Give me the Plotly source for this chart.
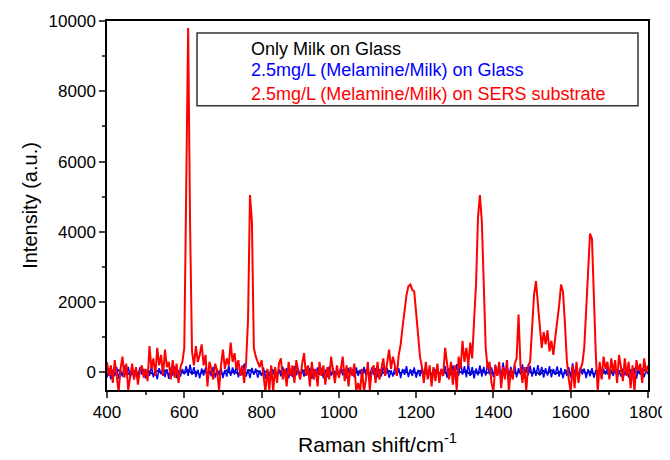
import plotly.graph_objects as go

# ---------------- data ----------------
wavenumber = list(range(400, 1801, 5))
wavenumber_black = list(range(400, 1801, 10))

red_sers = [
    300, -100, 200, -300, 350, -200, -550, 100, 450, -150,
    250, -500, -100, 250, -200, 150, -350, 50, 200, -150,
    100, -250, 750, 100, 400, -100, 700, 200, 500, -100,
    650, 150, 300, -200, 350, -150, 250, -300, 150, 300,
    700, 4800, 9800, 4200, 600, 200, 750, 300, 500, 800,
    200, 500, -400, 300, 100, -200, 250, 50, -500, 200,
    650, 100, 400, 200, 850, 300, 550, 100, 350, -100,
    200, -300, 300, 1500, 5050, 4300, 700, 450, 300, 150,
    350, -200, -550, 100, -500, 200, -550, 150, -300, 250,
    400, -200, 100, -400, 300, -100, 200, -300, 350, 0,
    -200, 250, 550, -100, 200, -400, 300, -200, 100, -400,
    300, -100, 200, -350, 150, -200, 450, 50, -300, 200,
    -150, 100, 450, -250, 200, -400, 150, -100, 250, -550,
    -300, -550, 100, -550, -200, 300, -500, 50, 200, -300,
    300, -200, 150, 400, -100, 300, 650, 100, 450, 200,
    -100, 500, 800, 1300, 1800, 2200, 2450, 2500, 2350, 2300,
    1700, 1100, 450, 150, -300, 300, -200, 200, -400, 150,
    -250, 250, -300, 100, -100, 700, 150, -200, 300, -350,
    200, -500, 450, 100, 900, 300, 700, 200, 850, 400,
    1500, 2500, 4400, 5050, 4300, 2300, 700, 100, 300, -300,
    -550, 200, -100, 300, -450, 150, -200, 350, -550, 100,
    -200, 250, 400, 1650, 200, -300, 150, -500, 200, 300,
    1200, 2200, 2600, 1900, 1200, 700, 1150, 800, 1200, 600,
    900, 500, 1000, 1400, 1900, 2500, 2300, 1400, 350, -200,
    -550, 200, -450, 300, -300, 100, 250, 700, 1800, 3000,
    3950, 3800, 2000, 500, -550, 300, -200, 450, 100, 300,
    -200, 400, 0, 350, -300, 500, 150, -250, 400, -100,
    300, -450, 200, -550, 350, 50, 250, -300, 400, 0,
    200,
]

blue_glass = [
    -150, 120, -200, 80, -100, 150, -180, 60, -120, 200,
    -80, 160, -150, 100, -200, 50, -120, 140, -60, 100,
    -170, 80, -100, 180, -140, 60, -200, 120, -50, 150,
    -130, 90, -180, 140, -90, 170, -160, 60, -120, 100,
    -50, 180, -100, 220, -60, 150, -130, 80, -170, 110,
    -90, 140, -200, 60, -110, 160, -150, 90, -80, 130,
    -160, 70, -120, 190, -100, 140, -60, 200, -140, 100,
    -80, 250, -120, 90, -160, 130, -70, 110, -150, 60,
    -100, 140, -180, 80, -120, 150, -60, 100, -140, 90,
    -110, 160, -90, 120, -170, 70, -130, 180, -80, 110,
    -150, 90, -120, 160, -60, 130, -180, 100, -100, 140,
    -70, 110, -160, 80, -130, 170, -90, 120, -140, 60,
    -120, 150, -80, 100, -170, 130, -60, 90, -150, 140,
    -100, 80, -130, 160, -90, 110, -160, 140, -70, 120,
    -140, 90, -110, 170, -80, 130, -150, 60, -120, 150,
    -90, 120, -160, 100, -70, 180, -130, 90, -100, 140,
    -150, 70, -110, 150, -80, 200, -120, 100, -170, 130,
    -60, 160, -140, 90, -100, 180, -150, 120, -80, 200,
    -120, 240, -90, 300, -60, 180, -140, 260, -100, 150,
    -170, 110, -80, 200, -120, 160, -90, 250, -60, 140,
    -130, 220, -100, 170, -150, 280, -70, 190, -110, 160,
    -90, 200, -140, 120, -60, 230, -160, 150, -80, 190,
    -120, 140, -100, 210, -70, 160, -150, 120, -90, 180,
    -140, 100, -60, 170, -120, 130, -170, 90, -100, 150,
    -150, 260, -80, 200, -130, 140, -60, 110, -160, 90,
    -110, 120, -150, 70, -90, 140, -170, 100, -60, 130,
    -140, 80, -100, 150, -160, 60, -120, 110, -80, 140,
    -150, 90, -70, 130, -180, 100, -60, 120, -140, 80,
    -50,
]

black_milk = [
    -60, 40, -30, 70, -50, 20, -80, 50, -20, 60,
    -40, 30, -70, 50, -10, 60, -50, 30, -60, 40,
    -30, 70, -40, 20, -60, 50, -20, 40, -70, 30,
    -50, 60, -30, 40, -60, 20, -40, 70, -20, 50,
    -70, 30, -50, 60, -30, 40, -60, 20, -40, 50,
    -20, 60, -50, 30, -70, 40, -30, 50, -60, 20,
    -40, 70, -20, 40, -60, 30, -50, 60, -30, 40,
    -60, 20, -40, 50, -70, 30, -20, 60, -50, 40,
    -30, 50, -60, 20, -40, 70, -30, 40, -50, 30,
    -60, 40, -20, 50, -70, 30, -40, 60, -30, 20,
    -50, 70, -30, 40, -60, 20, -40, 50, -20, 60,
    -40, 30, -70, 50, -30, 60, -50, 20, -60, 40,
    -20, 50, -40, 70, -30, 30, -60, 40, -50, 20,
    -70, 40, -30, 60, -20, 50, -60, 30, -40, 70,
    -30,
]

series_names = [
    "Only Milk on Glass",
    "2.5mg/L (Melamine/Milk) on Glass",
    "2.5mg/L (Melamine/Milk) on SERS substrate",
]
series_colors = ["#000000", "#0000ff", "#ff0000"]

x_ticks = [400, 600, 800, 1000, 1200, 1400, 1600, 1800]
y_ticks = [0, 2000, 4000, 6000, 8000, 10000]
y_tick_labels = ["0", "2000", "4000", "6000", "8000", "10000"]

# ---------------- figure ----------------
FONT = "Liberation Sans, Arial, sans-serif"

fig = go.Figure()
fig.add_trace(go.Scatter(x=wavenumber_black, y=black_milk, mode="lines",
                         line=dict(color=series_colors[0], width=1.5),
                         name=series_names[0], showlegend=False))
fig.add_trace(go.Scatter(x=wavenumber, y=blue_glass, mode="lines",
                         line=dict(color=series_colors[1], width=1.5),
                         name=series_names[1], showlegend=False))
fig.add_trace(go.Scatter(x=wavenumber, y=red_sers, mode="lines",
                         line=dict(color=series_colors[2], width=2),
                         name=series_names[2], showlegend=False))

# legend box drawn as shape + text annotations (no line samples in the original)
fig.add_shape(type="rect", xref="paper", yref="paper",
              x0=0.1664, x1=0.9815, y0=0.770, y1=0.9675,
              line=dict(color="#333333", width=1.5), fillcolor="white", layer="above")
legend_y = [0.925, 0.866, 0.803]
for name, col, yy in zip(series_names, series_colors, legend_y):
    fig.add_annotation(xref="paper", yref="paper", x=0.263, y=yy,
                       text=name, showarrow=False, xanchor="left", yanchor="middle",
                       font=dict(family=FONT, size=18, color=col))

# the page adds an 8 px body margin, so the figure is sized to fit inside the window
fig.update_layout(
    width=662, height=452,
    margin=dict(l=99, r=22, t=13, b=70),
    paper_bgcolor="white", plot_bgcolor="white",
    font=dict(family=FONT, size=17, color="black"),
    showlegend=False,
)
fig.update_xaxes(
    range=[400, 1800], tickvals=x_ticks, ticks="outside", ticklen=6, tickwidth=1.5,
    showline=True, linecolor="black", linewidth=1.5, mirror=True,
    showgrid=False, zeroline=False, automargin=False,
    tickfont=dict(family=FONT, size=17),
    minor=dict(dtick=100, tick0=400, ticks="outside", ticklen=3, tickwidth=1.5, showgrid=False),
    title=dict(text="Raman shift/cm<sup>-1</sup>", font=dict(family=FONT, size=21), standoff=16),
)
fig.update_yaxes(
    range=[-500, 10000], tickvals=y_ticks, ticktext=y_tick_labels,
    ticks="outside", ticklen=6, tickwidth=1.5,
    showline=True, linecolor="black", linewidth=1.5, mirror=True,
    showgrid=False, zeroline=False, automargin=False,
    tickfont=dict(family=FONT, size=17),
    minor=dict(dtick=1000, tick0=0, ticks="outside", ticklen=3, tickwidth=1.5, showgrid=False),
    title=dict(text="Intensity (a.u.)", font=dict(family=FONT, size=20), standoff=6),
)

fig.write_html("out.html")
